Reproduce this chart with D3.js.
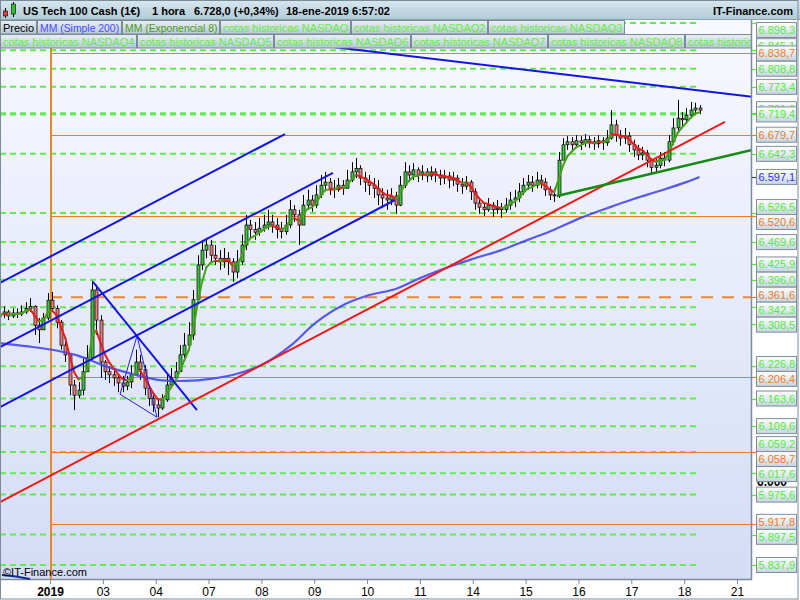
<!DOCTYPE html>
<html><head><meta charset="utf-8">
<script src="https://cdn.jsdelivr.net/npm/d3@7"></script>
<style>body{margin:0;background:#fff}svg{display:block;font-family:"Liberation Sans",Arial,sans-serif}</style>
</head><body><svg id="c" width="800" height="600"></svg>
<script>
// ---------------- DATA ----------------
const titleParts = ["US Tech 100 Cash (1€)", "1 hora", "6.728,0 (+0,34%)", "18-ene-2019 6:57:02"];
const legendRow1 = ["Precio", "MM (Simple 200)", "MM (Exponencial 8)", "cotas historicas NASDAQ", "cotas historicas NASDAQ2", "cotas historicas NASDAQ3"];
const legendRow2 = ["cotas historicas NASDAQ4", "cotas historicas NASDAQ5", "cotas historicas NASDAQ6", "cotas historicas NASDAQ7", "cotas historicas NASDAQ8", "cotas historicas NASDAQ9"];
const dayLabels = ["2019","03","04","07","08","09","10","11","14","15","16","17","18","21"];
const barsPerDay = 12; // 2-hour bars, first bar starts one day before "2019"
const firstOpen = 6322;
const closes = [
 6327,6333,6325,6331,6329,6333,6340,6344,6307,6298,
 6321,6356,6340,6313,6268,6249,6190,6170,6180,6216,
 6243,6376,6317,6235,6216,6210,6204,6194,6188,6196,
 6210,6235,6220,6184,6164,6151,6145,6161,6190,6204,
 6216,6249,6268,6288,6357,6425,6454,6464,6444,6438,
 6431,6438,6431,6411,6431,6464,6503,6494,6489,6497,
 6503,6509,6503,6494,6490,6503,6533,6523,6503,6542,
 6552,6542,6562,6581,6587,6575,6572,6581,6575,6591,
 6607,6614,6595,6587,6581,6575,6562,6556,6552,6560,
 6542,6581,6607,6601,6611,6601,6607,6599,6607,6601,
 6595,6599,6591,6595,6583,6579,6587,6568,6546,6538,
 6533,6542,6533,6536,6533,6542,6552,6556,6568,6581,
 6587,6581,6591,6587,6572,6562,6560,6630,6660,6666,
 6660,6668,6664,6670,6666,6662,6668,6664,6673,6699,
 6679,6673,6677,6660,6650,6640,6644,6630,6616,6620,
 6634,6630,6666,6693,6712,6709,6718,6728,6732,6728];
const highs = [
 6340,6344,6337,6340,6340,6346,6352,6360,6346,6321,
 6331,6370,6372,6346,6317,6278,6249,6200,6196,6243,
 6268,6394,6386,6327,6239,6227,6223,6212,6208,6208,
 6229,6259,6249,6229,6190,6170,6164,6172,6210,6223,
 6235,6268,6292,6313,6376,6444,6474,6478,6474,6464,
 6454,6458,6450,6438,6454,6484,6523,6513,6509,6517,
 6523,6533,6523,6517,6509,6523,6552,6542,6533,6562,
 6572,6562,6581,6601,6607,6595,6591,6595,6591,6611,
 6626,6634,6620,6607,6601,6595,6591,6575,6572,6575,
 6568,6599,6626,6620,6624,6616,6620,6614,6618,6614,
 6611,6611,6607,6607,6601,6595,6599,6591,6575,6556,
 6548,6556,6548,6552,6546,6556,6568,6572,6585,6595,
 6601,6599,6607,6601,6595,6579,6575,6646,6673,6677,
 6675,6679,6677,6681,6677,6675,6679,6675,6689,6728,
 6709,6689,6693,6685,6670,6660,6656,6650,6634,6634,
 6646,6646,6679,6712,6748,6724,6732,6744,6742,6738];
const lows = [
 6317,6321,6317,6321,6321,6325,6329,6333,6288,6272,
 6301,6317,6333,6301,6259,6235,6170,6141,6164,6170,
 6216,6239,6288,6204,6200,6194,6188,6176,6176,6180,
 6184,6210,6200,6170,6149,6137,6127,6141,6157,6184,
 6200,6220,6243,6259,6278,6357,6415,6438,6431,6425,
 6415,6419,6405,6392,6399,6425,6454,6477,6474,6482,
 6490,6494,6488,6477,6477,6484,6497,6509,6464,6503,
 6533,6529,6536,6556,6572,6562,6556,6568,6562,6575,
 6587,6595,6581,6568,6562,6556,6542,6536,6533,6542,
 6525,6540,6575,6587,6591,6587,6591,6587,6591,6587,
 6581,6583,6575,6579,6568,6564,6572,6552,6533,6525,
 6521,6529,6519,6525,6517,6527,6533,6538,6548,6562,
 6572,6568,6575,6575,6560,6552,6548,6556,6630,6650,
 6646,6654,6650,6656,6654,6650,6654,6650,6658,6670,
 6666,6658,6662,6646,6636,6630,6630,6616,6601,6607,
 6614,6618,6626,6660,6685,6693,6701,6712,6718,6720];
// MM Simple 200, at bar indices
const smaBars = [0,6,12,18,24,30,36,42,48,54,60,66,72,78,84,90,96,102,108,114,120,126,132,138,144,150,156,159];
const smaValues = [6272,6266,6259,6247,6227,6212,6200,6198,6202,6212,6231,6266,6313,6346,6366,6378,6401,6421,6438,6454,6474,6494,6517,6536,6554,6570,6587,6597.1];
// horizontal levels
const greenLevels = [6898.3,6845.1,6808.8,6773.4,6721.9,6719.4,6642.3,6526.5,6469.6,6425.9,6396.0,6342.3,6308.5,6226.8,6163.6,6109.6,6059.2,6017.6,5975.6,5897.5,5837.9];
const coveredLevels = [6845.1,6721.9];
const orangeLevels = [6838.7,6679.7,6520.6,6206.4,6058.7,5917.8];
const orangeDashedLevel = 6361.6;
const roundLevel = 6000;
// drawn trend lines: [day position, price, day position, price]
const blueLines = [
 [-0.946,6390, 4.447,6681],
 [-0.946,6264, 5.355,6605],
 [-0.946,6147, 6.528,6552],
 [0.814,6392, 2.781,6141],
 [5.393,6851, 13.283,6754]];
const blueTriangle = [[1.325,6172],[1.646,6286],[2.025,6127]];
const redLine = [-0.946,5961, 12.772,6705];
const greenLine = [9.593,6560, 13.283,6650];

// ---------------- CHART ----------------
const PR = 752, PT = 20, PB = 580;
const FONT = '"Liberation Sans",Arial,sans-serif';
const svg = d3.select("#c");
const defs = svg.append("defs");
function vgrad(id, c1, c2){
  const g = defs.append("linearGradient").attr("id",id).attr("x1",0).attr("y1",0).attr("x2",0).attr("y2",1);
  g.append("stop").attr("offset",0).attr("stop-color",c1);
  g.append("stop").attr("offset",1).attr("stop-color",c2);
}
vgrad("gHead","#d8e7ee","#b1cad7");
vgrad("gBtn","#eaf0f4","#b5c8d4");
vgrad("gPlot","#f8f9ff","#d4dcf6");
vgrad("gLab","#ffffff","#c6d4e0");
defs.append("clipPath").attr("id","clipPlot").append("rect").attr("x",0).attr("y",PT).attr("width",PR).attr("height",PB-PT);
defs.append("clipPath").attr("id","clipLeg").append("rect").attr("x",0).attr("y",0).attr("width",PR).attr("height",60);

const x = d3.scaleLinear().domain([0, dayLabels.length-1]).range([50, 737]);
const y = d3.scaleLinear().domain([5837.9, 6898.3]).range([565, 23]);
const tBar = i => -1 + (i + 0.5) / barsPerDay;
const loc = d3.formatLocale({decimal:",", thousands:".", grouping:[3], currency:["","€"]});
const fmt1 = loc.format(",.1f"), fmt0 = loc.format(",.0f");

svg.append("rect").attr("width",800).attr("height",600).attr("fill","#fff");
svg.append("rect").attr("x",0).attr("y",PT).attr("width",PR).attr("height",PB-PT).attr("fill","url(#gPlot)");

const plot = svg.append("g").attr("clip-path","url(#clipPlot)");
const lastX = x(tBar(closes.length-1)) - 2;

// green dashed levels
plot.selectAll(".gl").data(greenLevels).join("line")
  .attr("x1",0).attr("x2",lastX).attr("y1",d=>y(d)).attr("y2",d=>y(d))
  .attr("stroke","#62ea55").attr("stroke-width",2).attr("stroke-dasharray","6,4");
// orange solid levels
plot.selectAll(".ol").data(orangeLevels).join("line")
  .attr("x1",x(0)).attr("x2",PR).attr("y1",d=>Math.round(y(d))+0.5).attr("y2",d=>Math.round(y(d))+0.5)
  .attr("stroke","#f07a1e").attr("stroke-width",1.2);
plot.append("line").attr("x1",x(0)).attr("x2",PR).attr("y1",y(orangeDashedLevel)).attr("y2",y(orangeDashedLevel))
  .attr("stroke","#f0882e").attr("stroke-width",2).attr("stroke-dasharray","12,9");
plot.append("line").attr("x1",x(0)+1).attr("x2",x(0)+1).attr("y1",PT).attr("y2",PB)
  .attr("stroke","#f08526").attr("stroke-width",2);

// candles
const bars = closes.map((c,i)=>{
  const o = i===0 ? firstOpen : closes[i-1];
  return {i, o, c, h: Math.max(highs[i],o,c), l: Math.min(lows[i],o,c)};
});
const cg = plot.append("g");
cg.selectAll(".w").data(bars).join("line")
  .attr("x1",d=>Math.round(x(tBar(d.i)))+0.5).attr("x2",d=>Math.round(x(tBar(d.i)))+0.5)
  .attr("y1",d=>y(d.h)).attr("y2",d=>y(d.l)).attr("stroke","#000").attr("stroke-width",1);
cg.selectAll(".b").data(bars).join("rect")
  .attr("x",d=>Math.round(x(tBar(d.i)))-1)
  .attr("width",3)
  .attr("y",d=>y(Math.max(d.o,d.c)))
  .attr("height",d=>Math.max(1, Math.abs(y(d.o)-y(d.c))))
  .attr("fill",d=>d.c>=d.o?"#3cc83c":"#f07a7a").attr("stroke","#000").attr("stroke-width",0.7);

// SMA 200
plot.append("path").datum(smaBars.map((b,k)=>[x(tBar(b)), y(smaValues[k])]))
  .attr("d", d3.line().curve(d3.curveCatmullRom.alpha(0.5)))
  .attr("fill","none").attr("stroke","#4848ec").attr("stroke-width",2.2).attr("opacity",0.9);

// EMA (period adapted to 2-hour bars, equivalent to EMA 8 on hourly bars)
const emaPeriod = 4, k = 2/(emaPeriod+1);
const ema = [];
closes.forEach((c,i)=>ema.push(i===0 ? c : ema[i-1] + k*(c-ema[i-1])));
plot.selectAll(".em").data(ema.slice(1)).join("line")
  .attr("x1",(d,j)=>x(tBar(j))).attr("y1",(d,j)=>y(ema[j]))
  .attr("x2",(d,j)=>x(tBar(j+1))).attr("y2",d=>y(d))
  .attr("stroke",(d,j)=>d>=ema[j]?"#4a9e1c":"#f01a1a").attr("stroke-width",2).attr("stroke-linecap","round");

// trend lines
function seg(g, s, color, w){
  g.append("line").attr("x1",x(s[0])).attr("y1",y(s[1])).attr("x2",x(s[2])).attr("y2",y(s[3]))
   .attr("stroke",color).attr("stroke-width",w);
}
blueLines.forEach(s=>seg(plot,s,"#1414e4",2));
plot.append("path").datum(blueTriangle.map(p=>[x(p[0]),y(p[1])]))
  .attr("d", d=>d3.line()(d)+"Z").attr("fill","none").attr("stroke","#2020e0").attr("stroke-width",1);
seg(plot, redLine, "#ee1a1a", 2);
seg(plot, greenLine, "#168a16", 2.5);

// ---------------- header ----------------
svg.append("rect").attr("x",0).attr("y",0).attr("width",800).attr("height",20).attr("fill","url(#gHead)");
svg.append("line").attr("x1",0).attr("x2",800).attr("y1",19.5).attr("y2",19.5).attr("stroke","#8ca3b0");
const ic = svg.append("g");
ic.append("line").attr("x1",5.5).attr("x2",5.5).attr("y1",8).attr("y2",18).attr("stroke","#000");
ic.append("rect").attr("x",3.5).attr("y",11).attr("width",4).attr("height",5).attr("fill","#e83a3a").attr("stroke","#000").attr("stroke-width",0.6);
ic.append("line").attr("x1",13.5).attr("x2",13.5).attr("y1",2).attr("y2",17).attr("stroke","#000");
ic.append("rect").attr("x",11.5).attr("y",4).attr("width",4).attr("height",10).attr("fill","#2ec42e").attr("stroke","#000").attr("stroke-width",0.6);
const titleX = [23,152,194,286];
svg.selectAll(".tt").data(titleParts).join("text")
  .attr("x",(d,i)=>titleX[i]).attr("y",15).text(d=>d)
  .attr("font-size",11).attr("font-weight","bold").attr("fill","#000").attr("font-family",FONT);
svg.append("text").attr("x",793).attr("y",15).attr("text-anchor","end").text("IT-Finance.com")
  .attr("font-size",11).attr("font-weight","bold").attr("fill","#000").attr("font-family",FONT);

// ---------------- legend ----------------
const legColor = t => t==="Precio" ? "#000" : t.startsWith("MM (Simple") ? "#4b4bff" : t.startsWith("MM (Exp") ? "#4c9c1c" : "#66ec44";
const leg = svg.append("g").attr("clip-path","url(#clipLeg)");
function legendRow(items, y0){
  let cx = 0;
  items.forEach(t=>{
    const g = leg.append("g");
    const r = g.append("rect").attr("y",y0+0.5).attr("height",13.5).attr("fill","url(#gBtn)").attr("stroke","#7a8b97").attr("stroke-width",1);
    const tx = g.append("text").attr("y",y0+11.5).text(t).attr("font-size",t.startsWith("MM")?10.4:11).attr("font-family",FONT).attr("fill",legColor(t));
    const w = Math.round(tx.node().getComputedTextLength()) + 6;
    r.attr("x",cx+0.5).attr("width",w-1);
    tx.attr("x",cx+3);
    cx += w;
  });
}
legendRow(legendRow1, 20);
legendRow(legendRow2, 34);

// ---------------- frame ----------------
svg.append("line").attr("x1",PR-0.5).attr("x2",PR-0.5).attr("y1",PT).attr("y2",PB).attr("stroke","#7b8b98").attr("stroke-width",1.5);
svg.append("line").attr("x1",0).attr("x2",PR).attr("y1",PB-0.5).attr("y2",PB-0.5).attr("stroke","#7b8b98").attr("stroke-width",1.5);
svg.append("rect").attr("x",0.5).attr("y",0.5).attr("width",797.5).attr("height",598.5).attr("fill","none").attr("stroke","#7b8b98");

// ---------------- right axis labels ----------------
const colOf = {g:"#52ec3c", o:"#f07b22", b:"#2e2eee"};
const ra = svg.append("g");
const allTicks = greenLevels.map(v=>({v,c:"g"})).concat(orangeLevels.map(v=>({v,c:"o"})), [{v:orangeDashedLevel,c:"o"},{v:smaValues[smaValues.length-1],c:"b"}]);
ra.selectAll(".tk").data(allTicks).join("line")
  .attr("x1",PR).attr("x2",PR+5).attr("y1",d=>Math.round(y(d.v))+0.5).attr("y2",d=>Math.round(y(d.v))+0.5)
  .attr("stroke",d=>colOf[d.c]).attr("stroke-width",1.2);
ra.append("text").attr("x",757).attr("y",y(roundLevel)+4).text(fmt0(roundLevel))
  .attr("font-size",12).attr("font-weight","bold").attr("font-family",FONT).attr("fill","#000");
function drawLabel(d, ly){
  const g = ra.append("g");
  g.append("rect").attr("x",756.5).attr("y",ly-7.5).attr("width",40).attr("height",15)
    .attr("fill","url(#gLab)").attr("stroke","#7f8e9a");
  g.append("text").attr("x",758.5).attr("y",ly+4).text(fmt1(d.v))
    .attr("font-size",11).attr("font-family",FONT).attr("fill",colOf[d.c]);
}
// covered labels (partly hidden behind neighbours, as in the reference)
coveredLevels.forEach(v=>drawLabel({v,c:"g"}, y(v)-4));
const labs = allTicks.filter(d=>!coveredLevels.includes(d.v)).map(d=>({...d, y:y(d.v)}));
labs.sort((a,b)=>a.y-b.y);
labs.forEach(d=>d.ly=d.y);
for(let it=0; it<300; it++){
  let moved=false;
  for(let j=1;j<labs.length;j++){
    const ov = 15 - (labs[j].ly - labs[j-1].ly);
    if(ov>0.01){ labs[j-1].ly -= ov/2; labs[j].ly += ov/2; moved=true; }
  }
  if(labs[0].ly<30){ labs[0].ly=30; }
  if(!moved) break;
}
labs.forEach(d=>drawLabel(d, d.ly));

// ---------------- x axis ----------------
const gx = svg.append("g").attr("transform",`translate(0,${PB})`)
  .call(d3.axisBottom(x).tickValues(d3.range(dayLabels.length)).tickFormat((d,i)=>dayLabels[i]).tickSize(4).tickPadding(3));
gx.select(".domain").remove();
gx.selectAll("line").attr("stroke","#7b8b98");
gx.selectAll("text").attr("font-size",12).attr("font-family",FONT).attr("fill","#000")
  .attr("font-weight",(d,i)=>i===0?"bold":"normal");

// logo
svg.append("path").attr("d","M2,575 Q16,576 30,579").attr("fill","none").attr("stroke","#122a8a").attr("stroke-width",2);
svg.append("text").attr("x",3).attr("y",576).text("©IT-Finance.com").attr("font-size",11).attr("font-family",FONT).attr("fill","#000");
</script></body></html>
